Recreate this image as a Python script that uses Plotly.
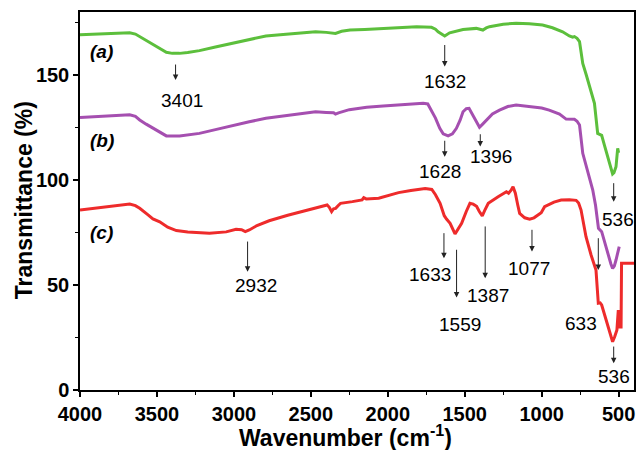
import plotly.graph_objects as go

# ---- data ----
a_x = [4000, 3800, 3677, 3640, 3612, 3570, 3526, 3480, 3439, 3400, 3353, 3300, 3224, 3120, 3008, 2900,
       2792, 2680, 2577, 2469, 2400, 2376, 2360, 2340, 2300, 2245, 2150, 2029, 1920, 1813, 1716, 1690,
       1673, 1650, 1630, 1598, 1550, 1511, 1425, 1400, 1382, 1360, 1339, 1250, 1166, 1080, 994, 930,
       864, 820, 799, 787, 770, 754, 733, 710, 690, 657, 636, 622, 610, 590, 571, 550, 539, 530, 517,
       506, 500]
a_y = [169.2, 169.8, 170.1, 169.5, 168.3, 166.5, 164.3, 162.3, 160.8, 160.3, 160.3, 160.7, 161.6, 163.3,
       165.0, 166.9, 168.6, 169.3, 169.8, 170.6, 170.3, 170.1, 169.7, 169.8, 170.8, 171.4, 171.7, 172.2,
       172.5, 173.0, 172.7, 171.8, 170.6, 169.5, 168.6, 170.1, 171.0, 171.7, 172.2, 171.8, 171.4, 172.4,
       173.0, 174.2, 174.6, 174.4, 173.8, 172.5, 170.6, 168.6, 168.0, 168.3, 167.5, 165.9, 155.5, 150.0,
       144.4, 136.5, 122.2, 121.8, 121.3, 116.0, 111.1, 106.0, 102.9, 103.5, 106.3, 115.1, 113.0]

b_x = [4000, 3800, 3677, 3640, 3612, 3570, 3526, 3480, 3439, 3353, 3224, 3120, 3008, 2900, 2792, 2680,
       2577, 2469, 2400, 2352, 2340, 2320, 2250, 2137, 2030, 1921, 1850, 1770, 1740, 1716, 1690, 1662,
       1640, 1608, 1580, 1554, 1530, 1511, 1490, 1472, 1455, 1436, 1420, 1404, 1385, 1360, 1320, 1274,
       1220, 1166, 1120, 1080, 1000, 951, 884, 841, 787, 770, 754, 733, 710, 690, 668, 650, 631, 610,
       590, 571, 550, 539, 528, 517, 505, 496]
b_y = [129.8, 130.6, 131.1, 130.3, 128.6, 126.6, 124.6, 122.6, 121.0, 121.0, 122.2, 124.0, 125.7, 127.7,
       129.4, 130.5, 131.4, 132.5, 132.2, 132.0, 131.4, 132.0, 133.5, 134.6, 135.2, 135.7, 136.1, 136.5,
       136.2, 133.3, 129.5, 124.6, 122.0, 121.0, 122.0, 124.6, 128.5, 132.5, 134.0, 134.1, 132.0, 129.4,
       127.0, 125.1, 126.5, 128.6, 131.5, 133.3, 135.0, 135.7, 135.3, 135.2, 134.3, 133.3, 131.4, 129.0,
       128.9, 128.0, 126.2, 112.7, 106.5, 101.6, 95.2, 88.0, 77.0, 75.4, 70.0, 65.1, 60.0, 57.9, 59.0,
       61.9, 65.0, 68.3]

c_x = [4000, 3800, 3677, 3640, 3612, 3560, 3526, 3482, 3430, 3374, 3300, 3159, 3050, 2986, 2950, 2926,
       2900, 2850, 2771, 2650, 2512, 2394, 2380, 2365, 2352, 2339, 2320, 2307, 2230, 2167, 2156, 2140,
       2059, 1990, 1930, 1850, 1757, 1714, 1690, 1660, 1633, 1617, 1595, 1563, 1540, 1520, 1490, 1466,
       1445, 1423, 1405, 1386, 1370, 1347, 1283, 1229, 1215, 1200, 1186, 1171, 1155, 1143, 1110, 1078,
       1050, 1024, 1003, 981, 959, 920, 873, 820, 776, 760, 744, 712, 679, 647, 632, 620, 610, 590, 571,
       555, 539, 525, 511, 502, 494, 484, 481, 400]
c_y = [85.7, 87.5, 88.6, 87.8, 86.5, 83.5, 81.5, 80.1, 77.5, 75.9, 75.2, 74.6, 75.3, 76.5, 76.3, 75.4,
       76.2, 78.3, 80.6, 83.2, 85.7, 88.1, 87.0, 84.9, 86.3, 86.5, 88.0, 88.9, 89.7, 90.5, 91.6, 91.0,
       91.3, 92.6, 94.0, 95.0, 96.0, 95.5, 93.0, 88.9, 83.0, 81.3, 79.4, 74.3, 77.0, 79.4, 85.0, 88.9,
       88.5, 87.5, 85.0, 82.9, 85.5, 88.9, 92.0, 94.4, 93.7, 95.0, 96.8, 93.7, 88.0, 84.1, 82.0, 81.3,
       82.0, 83.3, 84.4, 87.3, 88.1, 89.5, 90.5, 90.6, 90.3, 89.0, 85.7, 73.0, 64.3, 57.1, 41.3, 41.5,
       40.5, 35.5, 31.7, 27.0, 23.0, 25.5, 28.6, 38.0, 30.0, 30.0, 60.3, 60.3]

series_names = ["(a)", "(b)", "(c)"]
series_colors = ["#5cbf3c", "#a54fb0", "#ee2b2b"]
label_y = [161, 119, 75]

x_ticks = [4000, 3500, 3000, 2500, 2000, 1500, 1000, 500]
y_ticks = [0, 50, 100, 150]

# peak labels: text, arrow x, arrow tail y, arrow head y, label x, label y
peak_text = ["3401", "1632", "536", "1628", "1396", "2932", "1633", "1559", "1387", "1077", "633", "536"]
peak_ax = [3379, 1630, 532, 1630, 1399, 2911, 1635, 1553, 1367, 1063, 632, 532]
peak_y0 = [155.7, 165.0, 99.2, 119.4, 122.5, 71.4, 75.4, 67.5, 78.6, 77.0, 73.0, 21.4]
peak_y1 = [147.6, 154.0, 89.7, 111.1, 115.9, 56.3, 62.7, 44.0, 53.2, 65.9, 57.1, 12.7]
peak_lx = [3336, 1630, 502, 1663, 1328, 2857, 1723, 1533, 1349, 1080, 744, 530]
peak_ly = [138.0, 146.8, 81.0, 104.0, 111.1, 50.0, 54.8, 31.0, 45.2, 58.0, 31.8, 6.3]

fig = go.Figure()
for xs, ys, col in zip([a_x, b_x, c_x], [a_y, b_y, c_y], series_colors):
    fig.add_trace(go.Scatter(x=xs, y=ys, mode="lines", line=dict(color=col, width=3),
                             showlegend=False, hoverinfo="skip"))

FONT = "Liberation Sans, Arial, sans-serif"
ann = []
for name, yy in zip(series_names, label_y):
    ann.append(dict(x=3948, y=yy, xref="x", yref="y", text="<b><i>%s</i></b>" % name,
                    showarrow=False, xanchor="left", yanchor="middle",
                    font=dict(family=FONT, size=19, color="black")))
for t, x0, y0, y1, lx, ly in zip(peak_text, peak_ax, peak_y0, peak_y1, peak_lx, peak_ly):
    ann.append(dict(x=x0, y=y1, ax=x0, ay=y0, xref="x", yref="y", axref="x", ayref="y",
                    text="", showarrow=True, arrowhead=2, arrowsize=1.1, arrowwidth=1,
                    arrowcolor="#222222", standoff=0, startstandoff=0))
    ann.append(dict(x=lx, y=ly, xref="x", yref="y", text=t, showarrow=False,
                    xanchor="center", yanchor="middle",
                    font=dict(family=FONT, size=19, color="black")))

# axis titles
ann.append(dict(x=0.479, y=-0.1217, xref="paper", yref="paper", showarrow=False,
                text="<b>Wavenumber (cm<sup>-1</sup>)</b>", xanchor="center", yanchor="middle",
                font=dict(family=FONT, size=23, color="black")))
ann.append(dict(x=-0.1007, y=0.5026, xref="paper", yref="paper", showarrow=False, textangle=-90,
                text="<b>Transmittance (%)</b>", xanchor="center", yanchor="middle",
                font=dict(family=FONT, size=23, color="black")))

fig.update_layout(
    width=638, height=450,
    margin=dict(l=80, r=2, t=12, b=60),
    paper_bgcolor="white", plot_bgcolor="white",
    annotations=ann,
    font=dict(family=FONT, color="black"),
)
fig.update_xaxes(range=[4000, 400], tickvals=x_ticks,
                 ticktext=["<b>%d</b>" % v for v in x_ticks],
                 ticks="outside", ticklen=5, tickwidth=1.5, tickcolor="black",
                 minor=dict(dtick=250, tick0=0, ticks="outside", ticklen=3, tickcolor="black", tickwidth=1.2),
                 showline=True, linecolor="black", linewidth=1.5, mirror=True, showgrid=False, zeroline=False,
                 tickfont=dict(family=FONT, size=20, color="black"))
fig.update_yaxes(range=[0, 180], tickvals=y_ticks,
                 ticktext=["<b>%d</b>" % v for v in y_ticks],
                 ticks="outside", ticklen=5, tickwidth=1.5, tickcolor="black",
                 minor=dict(dtick=25, tick0=0, ticks="outside", ticklen=3, tickcolor="black", tickwidth=1.2),
                 showline=True, linecolor="black", linewidth=1.5, mirror=True, showgrid=False, zeroline=False,
                 tickfont=dict(family=FONT, size=20, color="black"))

fig.write_html("out.html")
